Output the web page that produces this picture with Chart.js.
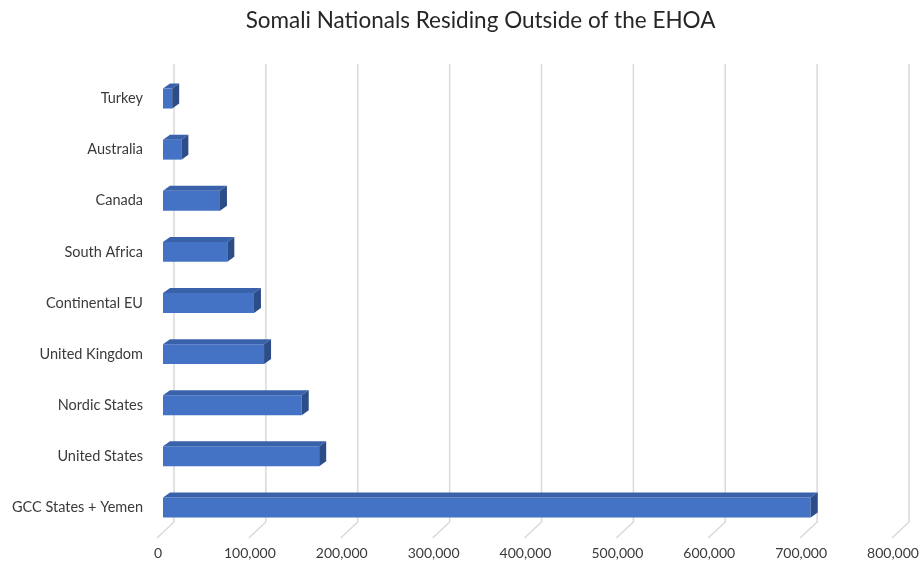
<!DOCTYPE html>
<html>
<head>
<meta charset="utf-8">
<script src="https://cdn.jsdelivr.net/npm/chart.js@4"></script>
<style>
  html, body { margin: 0; padding: 0; background: #fff; }
  #wrap { width: 921px; height: 565px; }
</style>
</head>
<body>
<div id="wrap"><canvas id="c" width="921" height="565"></canvas></div>
<script>
const titleText = 'Somali Nationals Residing Outside of the EHOA';
const categories = ['Turkey', 'Australia', 'Canada', 'South Africa', 'Continental EU', 'United Kingdom', 'Nordic States', 'United States', 'GCC States + Yemen'];
const values = [10000, 20000, 62000, 70000, 99000, 110000, 151000, 170000, 705000];
const xMin = 0;
const xMax = 800000;
const xStep = 100000;

const FONT = 'Lato, "Open Sans", sans-serif';
const TEXT = '#3a3a3a';

const bar3d = {
  id: 'bar3d',
  beforeDatasetsDraw(chart) {
    const ctx = chart.ctx;
    const xs = chart.scales.x;
    const area = chart.chartArea;
    ctx.save();
    ctx.strokeStyle = '#d9d9d9';
    ctx.lineWidth = 1.5;
    xs.ticks.forEach(t => {
      const px = xs.getPixelForValue(t.value);
      ctx.beginPath();
      ctx.moveTo(px + 11, area.top - 9);
      ctx.lineTo(px + 11, area.bottom - 11);
      ctx.lineTo(px - 6, area.bottom + 5);
      ctx.stroke();
    });
    ctx.restore();
  },
  afterDatasetsDraw(chart) {
    const ctx = chart.ctx;
    const meta = chart.getDatasetMeta(0);
    const dx = 7, dy = 5;
    ctx.save();
    meta.data.forEach(el => {
      const p = el.getProps(['x', 'y', 'base', 'height'], true);
      const top = p.y - p.height / 2;
      const bot = p.y + p.height / 2;
      ctx.fillStyle = '#3a62ab';
      ctx.beginPath();
      ctx.moveTo(p.base, top);
      ctx.lineTo(p.x, top);
      ctx.lineTo(p.x + dx, top - dy);
      ctx.lineTo(p.base + dx, top - dy);
      ctx.closePath();
      ctx.fill();
      ctx.fillStyle = '#2c4d88';
      ctx.beginPath();
      ctx.moveTo(p.x, top);
      ctx.lineTo(p.x + dx, top - dy);
      ctx.lineTo(p.x + dx, bot - dy);
      ctx.lineTo(p.x, bot);
      ctx.closePath();
      ctx.fill();
    });
    ctx.restore();
  }
};

new Chart(document.getElementById('c'), {
  type: 'bar',
  data: {
    labels: categories,
    datasets: [{
      data: values,
      backgroundColor: '#4472c4',
      borderWidth: 0,
      barPercentage: 0.78,
      categoryPercentage: 0.5
    }]
  },
  options: {
    indexAxis: 'y',
    responsive: false,
    animation: false,
    devicePixelRatio: 1,
    layout: { padding: { left: 0, right: -40, top: 0, bottom: 0 } },
    plugins: {
      legend: { display: false },
      tooltip: { enabled: false },
      title: {
        display: true,
        text: titleText,
        color: '#262626',
        font: { family: FONT, size: 22.5, weight: 'normal' },
        padding: { top: 7, bottom: 39 }
      }
    },
    scales: {
      x: {
        min: xMin,
        max: xMax,
        grid: { display: false, drawTicks: false },
        border: { display: false },
        ticks: {
          stepSize: xStep,
          color: TEXT,
          font: { family: FONT, size: 14 },
          padding: 12,
          labelOffset: -5,
          maxRotation: 0,
          callback: v => v.toLocaleString('en-US')
        },
        afterFit(s) { s.height = 32; s.paddingRight = 23; s.paddingLeft = 0; }
      },
      y: {
        grid: { display: false, drawTicks: false },
        border: { display: false },
        ticks: {
          color: TEXT,
          font: { family: FONT, size: 14.5 },
          padding: 20
        },
        afterFit(s) { s.width = 163; }
      }
    }
  },
  plugins: [bar3d]
});
</script>
</body>
</html>
